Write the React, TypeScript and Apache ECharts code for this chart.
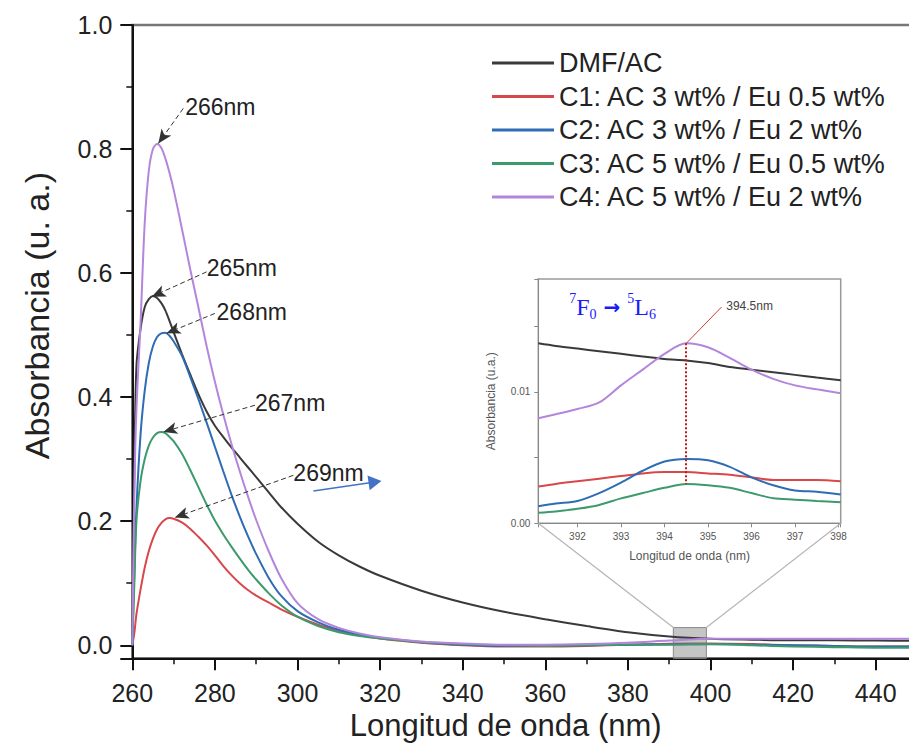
import React, { useEffect, useRef } from "react";
import * as echarts from "echarts";

// ---------- main spectrum data ----------
const wavelengthNm = [260, 260.5, 261, 262, 263, 264, 265, 266, 267, 268, 269, 270, 272, 274, 276, 278, 280, 282, 284, 286, 288, 290, 293, 296, 300, 305, 310, 315, 320, 330, 340, 350, 360, 370, 380, 390, 400, 410, 420, 430, 440, 450];

const dmfAc = [0.0, 0.28, 0.45, 0.51, 0.545, 0.558, 0.563, 0.56, 0.552, 0.54, 0.523, 0.505, 0.47, 0.437, 0.405, 0.377, 0.354, 0.336, 0.319, 0.303, 0.287, 0.271, 0.247, 0.223, 0.196, 0.167, 0.145, 0.127, 0.112, 0.088, 0.069, 0.054, 0.042, 0.031, 0.021, 0.0142, 0.0105, 0.009, 0.008, 0.008, 0.0075, 0.007];
const c1 = [0.0, 0.02, 0.05, 0.09, 0.125, 0.152, 0.172, 0.187, 0.197, 0.203, 0.205, 0.204, 0.198, 0.188, 0.175, 0.161, 0.145, 0.128, 0.113, 0.1, 0.089, 0.08, 0.069, 0.058, 0.046, 0.033, 0.023, 0.016, 0.011, 0.004, 0.0, -0.002, -0.002, -0.001, 0.001, 0.0025, 0.003, 0.002, 0.0, -0.001, -0.002, -0.002];
const c2 = [0.0, 0.12, 0.22, 0.34, 0.41, 0.455, 0.482, 0.497, 0.503, 0.504, 0.499, 0.49, 0.467, 0.433, 0.397, 0.359, 0.32, 0.281, 0.243, 0.208, 0.176, 0.147, 0.109, 0.08, 0.055, 0.037, 0.025, 0.017, 0.012, 0.005, 0.001, -0.001, -0.001, 0.0, 0.001, 0.0015, 0.002, 0.001, 0.0, -0.001, -0.002, -0.002];
const c3 = [0.0, 0.1, 0.2, 0.265, 0.3, 0.322, 0.335, 0.342, 0.344, 0.342, 0.336, 0.329, 0.309, 0.283, 0.255, 0.227, 0.201, 0.179, 0.159, 0.14, 0.122, 0.106, 0.084, 0.065, 0.046, 0.031, 0.021, 0.015, 0.011, 0.005, 0.002, 0.0, -0.001, 0.0, 0.001, 0.001, 0.002, 0.0, -0.002, -0.003, -0.004, -0.004];
const c4 = [0.0, 0.25, 0.38, 0.52, 0.68, 0.765, 0.8, 0.808, 0.802, 0.785, 0.762, 0.735, 0.672, 0.607, 0.545, 0.482, 0.425, 0.373, 0.325, 0.281, 0.24, 0.202, 0.152, 0.109, 0.068, 0.042, 0.028, 0.019, 0.013, 0.006, 0.003, 0.001, 0.001, 0.002, 0.004, 0.0075, 0.0105, 0.0105, 0.0105, 0.0105, 0.0105, 0.0105];

// ---------- inset (zoom 391-398 nm) data ----------
const insetWavelengthNm = [391.1, 391.5, 392, 392.5, 393, 393.5, 394, 394.5, 395, 395.5, 396, 396.5, 397, 397.5, 398.05];
const insetDmfAc = [0.0137, 0.0135, 0.0133, 0.0131, 0.0129, 0.0127, 0.0125, 0.0124, 0.0122, 0.0119, 0.0117, 0.0115, 0.0113, 0.0111, 0.0109];
const insetC1 = [0.0028, 0.003, 0.0032, 0.0034, 0.0036, 0.0038, 0.0039, 0.0039, 0.0038, 0.0037, 0.0035, 0.0033, 0.0033, 0.0033, 0.0032];
const insetC2 = [0.0013, 0.0015, 0.0017, 0.0023, 0.0031, 0.004, 0.0047, 0.0049, 0.0048, 0.0043, 0.0035, 0.0029, 0.0025, 0.0024, 0.0022];
const insetC3 = [0.0008, 0.0009, 0.0011, 0.0014, 0.0019, 0.0023, 0.0027, 0.003, 0.0029, 0.0027, 0.0023, 0.0019, 0.0018, 0.0017, 0.0016];
const insetC4 = [0.008, 0.0083, 0.0087, 0.0092, 0.0105, 0.0117, 0.0129, 0.0137, 0.0134, 0.0126, 0.0117, 0.011, 0.0105, 0.0102, 0.0099];

const seriesNames = [
  "DMF/AC",
  "C1: AC 3 wt% / Eu 0.5 wt%",
  "C2: AC 3 wt% / Eu 2 wt%",
  "C3: AC 5 wt% / Eu 0.5 wt%",
  "C4: AC 5 wt% / Eu 2 wt%",
];
const seriesColors = ["#3a3a3a", "#d8474b", "#2e6cb3", "#3d9a6c", "#b386dc"];
const mainValues = [dmfAc, c1, c2, c3, c4];
const insetValues = [insetDmfAc, insetC1, insetC2, insetC3, insetC4];

// peak annotations: label text, arrow start/end and text anchor (data coords)
const peakLabels = ["266nm", "265nm", "268nm", "267nm", "269nm"];
const peakArrowFrom = [[272.35, 0.8656], [278.0, 0.602], [280.0, 0.535], [289.7, 0.387], [299.0, 0.274]];
const peakArrowTo = [[266.3, 0.809], [264.7, 0.562], [268.3, 0.503], [267.5, 0.344], [270.3, 0.206]];
const peakTextAt = [[272.8, 0.868], [278.0, 0.6076], [280.4, 0.5376], [289.7, 0.3898], [299.0, 0.277]];

const FONT = "'Liberation Sans', Arial, Helvetica, sans-serif";
const SERIF = "'Liberation Serif', 'Times New Roman', serif";

const CHART_W = 940;
const CHART_H = 756;
const MAIN = { left: 132.3, top: 25, right: 23, bottom: 97.7 };
const INSET = { left: 538.3, top: 279, width: 302.4, height: 244.3 };

const pairs = (xs: number[], ys: number[]) => xs.map((x, i) => [x, ys[i]]);

function buildOption(): any {
  const mainSeries = seriesNames.map((name, i) => ({
    type: "line",
    name,
    xAxisIndex: 0,
    yAxisIndex: 0,
    data: pairs(wavelengthNm, mainValues[i]),
    showSymbol: false,
    smooth: 0.3,
    color: seriesColors[i],
    lineStyle: { width: 2, color: seriesColors[i] },
    z: 3,
    silent: true,
  }));
  const insetSeries = seriesNames.map((name, i) => ({
    type: "line",
    name,
    xAxisIndex: 1,
    yAxisIndex: 1,
    data: pairs(insetWavelengthNm, insetValues[i]),
    showSymbol: false,
    smooth: 0.3,
    color: seriesColors[i],
    lineStyle: { width: 2, color: seriesColors[i] },
    z: 3,
    silent: true,
  }));

  const insetBottomY = INSET.top + INSET.height;
  const insetRightX = INSET.left + INSET.width;
  const blue = "#1a1aff";

  const annotationSeries = [
    {
      type: "line",
      name: "peak-arrows",
      xAxisIndex: 0,
      yAxisIndex: 0,
      data: [],
      z: 5,
      silent: true,
      markLine: {
        silent: true,
        animation: false,
        symbol: ["none", "arrow"],
        symbolSize: [9, 14],
        label: { show: false },
        emphasis: { disabled: true },
        lineStyle: { color: "#333", width: 1, type: [5, 3] },
        data: peakArrowFrom.map((f, i) => [{ coord: f }, { coord: peakArrowTo[i] }]),
      },
      markPoint: {
        silent: true,
        animation: false,
        symbol: "circle",
        symbolSize: 0,
        itemStyle: { color: "transparent" },
        label: {
          show: true,
          position: "right",
          distance: 0,
          fontSize: 23,
          color: "#222",
          fontFamily: FONT,
          formatter: "{b}",
        },
        data: peakLabels.map((t, i) => ({ name: t, coord: peakTextAt[i] })),
      },
    },
    {
      type: "line",
      name: "blue-arrow",
      xAxisIndex: 0,
      yAxisIndex: 0,
      data: [],
      z: 5,
      silent: true,
      markLine: {
        silent: true,
        animation: false,
        symbol: ["none", "triangle"],
        symbolSize: [15, 13],
        label: { show: false },
        emphasis: { disabled: true },
        lineStyle: { color: "#4472c4", width: 1.5, type: "solid" },
        data: [[{ coord: [303.85, 0.2489] }, { coord: [318.77, 0.2634] }]],
      },
    },
    {
      type: "line",
      name: "zoom-box",
      xAxisIndex: 0,
      yAxisIndex: 0,
      data: [],
      z: 4,
      silent: true,
      markArea: {
        silent: true,
        animation: false,
        itemStyle: { color: "rgba(150,150,150,0.55)", borderColor: "#888", borderWidth: 1 },
        data: [[{ coord: [391, -0.021] }, { coord: [399, 0.0285] }]],
      },
      markLine: {
        silent: true,
        animation: false,
        symbol: ["none", "none"],
        label: { show: false },
        emphasis: { disabled: true },
        lineStyle: { color: "#b5b5b5", width: 1.2, type: "solid" },
        data: [
          [{ coord: [391, 0.0285] }, { x: INSET.left, y: insetBottomY }],
          [{ coord: [399, 0.0285] }, { x: insetRightX, y: insetBottomY }],
        ],
      },
    },
    {
      type: "line",
      name: "inset-peak-line",
      xAxisIndex: 1,
      yAxisIndex: 1,
      data: [],
      z: 5,
      silent: true,
      markLine: {
        silent: true,
        animation: false,
        symbol: ["none", "none"],
        label: { show: false },
        emphasis: { disabled: true },
        lineStyle: { color: "#d63a3a", width: 1, type: "solid" },
        data: [[{ coord: [394.5, 0.0137] }, { coord: [395.31, 0.01646] }]],
      },
      markPoint: {
        silent: true,
        animation: false,
        symbol: "circle",
        symbolSize: 0,
        itemStyle: { color: "transparent" },
        label: { show: true, position: "right", distance: 0 },
        data: [
          {
            name: "394.5nm",
            coord: [395.42, 0.01658],
            label: { formatter: "{b}", fontSize: 12, color: "#444", fontFamily: FONT },
          },
          {
            name: "7F0 → 5L6",
            coord: [391.81, 0.0165],
            label: {
              formatter: "{sup|7}{base|F}{sub|0}{arrow| → }{sup|5}{base|L}{sub|6}",
              rich: {
                base: { fontSize: 24, lineHeight: 30, fontFamily: SERIF, color: blue, verticalAlign: "middle" },
                arrow: {
                  fontSize: 20,
                  lineHeight: 30,
                  fontFamily: "'DejaVu Sans', sans-serif",
                  fontWeight: "bold",
                  color: blue,
                  verticalAlign: "middle",
                },
                sup: { fontSize: 14, lineHeight: 14, fontFamily: SERIF, color: blue, verticalAlign: "top" },
                sub: { fontSize: 14, lineHeight: 14, fontFamily: SERIF, color: blue, verticalAlign: "bottom" },
              },
            },
          },
        ],
      },
    },
    {
      type: "line",
      name: "inset-drop-line",
      xAxisIndex: 1,
      yAxisIndex: 1,
      data: [],
      z: 5,
      silent: true,
      markLine: {
        silent: true,
        animation: false,
        symbol: ["none", "none"],
        label: { show: false },
        emphasis: { disabled: true },
        lineStyle: { color: "#c01818", width: 2, type: [2, 2] },
        data: [[{ coord: [394.5, 0.0137] }, { coord: [394.5, 0.003] }]],
      },
    },
  ];

  return {
    animation: false,
    backgroundColor: "#ffffff",
    textStyle: { fontFamily: FONT },
    legend: {
      data: seriesNames,
      orient: "vertical",
      left: 492,
      top: 49.5,
      padding: 0,
      icon: "rect",
      itemWidth: 62,
      itemHeight: 3,
      itemGap: 6.5,
      selectedMode: false,
      textStyle: { fontSize: 27, lineHeight: 27, color: "#222", fontFamily: FONT },
    },
    grid: [
      {
        left: MAIN.left,
        top: MAIN.top,
        right: MAIN.right,
        bottom: MAIN.bottom,
        show: true,
        borderColor: "#777",
        borderWidth: 2.5,
        backgroundColor: "transparent",
        containLabel: false,
      },
      {
        left: INSET.left,
        top: INSET.top,
        width: INSET.width,
        height: INSET.height,
        show: true,
        backgroundColor: "#ffffff",
        borderColor: "#9a9a9a",
        borderWidth: 1.5,
        containLabel: false,
      },
    ],
    xAxis: [
      {
        gridIndex: 0,
        type: "value",
        min: 260,
        max: 450,
        interval: 20,
        axisLine: { show: true, onZero: false, lineStyle: { color: "#111", width: 2 } },
        axisTick: { show: true, inside: false, length: 12, lineStyle: { color: "#111", width: 2 } },
        minorTick: { show: true, splitNumber: 2, length: 6, lineStyle: { color: "#111", width: 1.5 } },
        axisLabel: { fontSize: 25, color: "#222", fontFamily: FONT, margin: 22, showMaxLabel: false },
        splitLine: { show: false },
        name: "Longitud de onda (nm)",
        nameLocation: "middle",
        nameGap: 48,
        nameTextStyle: { fontSize: 31, color: "#222", fontFamily: FONT, padding: [0, 38, 0, 0] },
      },
      {
        gridIndex: 1,
        type: "value",
        min: 391.1,
        max: 398.05,
        splitNumber: 7,
        axisLine: { show: true, onZero: false, lineStyle: { color: "#888", width: 1 } },
        axisTick: { show: true, inside: false, length: 4, lineStyle: { color: "#888", width: 1 } },
        axisLabel: {
          fontSize: 10,
          color: "#555",
          fontFamily: FONT,
          margin: 8,
          formatter: (v: number) => (Math.abs(v - Math.round(v)) < 1e-6 ? String(Math.round(v)) : ""),
        },
        splitLine: { show: false },
        name: "Longitud de onda (nm)",
        nameLocation: "middle",
        nameGap: 27,
        nameTextStyle: { fontSize: 12, color: "#555", fontFamily: FONT },
      },
    ],
    yAxis: [
      {
        gridIndex: 0,
        type: "value",
        min: -0.021,
        max: 1.0,
        splitNumber: 5,
        axisLine: { show: true, onZero: false, lineStyle: { color: "#111", width: 2 } },
        axisTick: { show: true, inside: false, length: 12, lineStyle: { color: "#111", width: 2 } },
        minorTick: { show: true, splitNumber: 2, length: 6, lineStyle: { color: "#111", width: 1.5 } },
        axisLabel: {
          fontSize: 25,
          color: "#222",
          fontFamily: FONT,
          margin: 20,
          showMinLabel: false,
          formatter: (v: number) => v.toFixed(1),
        },
        splitLine: { show: false },
        name: "Absorbancia (u. a.)",
        nameLocation: "middle",
        nameGap: 78,
        nameTextStyle: { fontSize: 34, color: "#222", fontFamily: FONT, padding: [0, 0, 0, 52] },
      },
      {
        gridIndex: 1,
        type: "value",
        min: 0,
        max: 0.0186,
        interval: 0.005,
        axisLine: { show: true, onZero: false, lineStyle: { color: "#888", width: 1 } },
        axisTick: { show: true, inside: false, length: 4, lineStyle: { color: "#888", width: 1 } },
        axisLabel: {
          fontSize: 10,
          color: "#555",
          fontFamily: FONT,
          margin: 8,
          formatter: (v: number) => (Math.abs(v) < 1e-9 ? "0.00" : Math.abs(v - 0.01) < 1e-9 ? "0.01" : ""),
        },
        splitLine: { show: false },
        name: "Absorbancia (u.a.)",
        nameLocation: "middle",
        nameGap: 41,
        nameTextStyle: { fontSize: 12, color: "#555", fontFamily: FONT },
      },
    ],
    series: [...mainSeries, ...insetSeries, ...annotationSeries],
  };
}

export default function App() {
  const ref = useRef<HTMLDivElement>(null);
  useEffect(() => {
    document.body.style.margin = "0";
    if (!ref.current) return;
    const chart = echarts.init(ref.current, null, { renderer: "svg" });
    chart.setOption(buildOption());
    return () => chart.dispose();
  }, []);
  return (
    <div style={{ width: 909, height: 756, overflow: "hidden", position: "relative", background: "#fff" }}>
      <div ref={ref} style={{ width: CHART_W, height: CHART_H }} />
    </div>
  );
}
